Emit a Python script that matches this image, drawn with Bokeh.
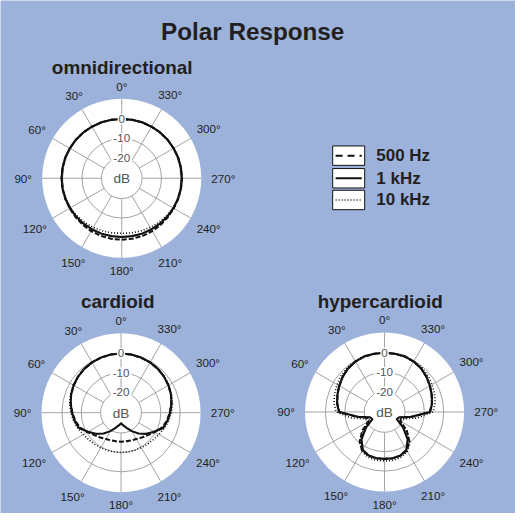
import numpy as np
from bokeh.plotting import figure
from bokeh.models import Range1d
from bokeh.embed import file_html
from bokeh.resources import INLINE
from bokeh.core.properties import value

# ---------------- data ----------------
angles_deg = [0, 10, 20, 30, 40, 50, 60, 70, 80, 90, 100, 110, 120, 130, 140, 150, 160, 170, 180]

series_labels = ["500 Hz", "1 kHz", "10 kHz"]
plot_titles = ["omnidirectional", "cardioid", "hypercardioid"]
main_title = "Polar Response"
ring_db = [0, -10, -20]
ring_labels = ["0", "-10", "-20"]
angle_ticks = [0, 30, 60, 90, 120, 150, 180, 210, 240, 270, 300, 330]
angle_labels = ["0°", "30°", "60°", "90°", "120°", "150°", "180°", "210°", "240°", "270°", "300°", "330°"]

# dB response, 0..180 deg (mirrored for 180..360)
omni_500 = [0, 0.1, 0.2, 0.2, 0.3, 0.4, 0.4, 0.5, 0.5, 0.5, 0.5, 0.5, 0.5, 0.6, 0.8, 1.0, 1.1, 1.2, 1.2]
omni_1k = [0, 0.1, 0.2, 0.2, 0.3, 0.4, 0.4, 0.5, 0.5, 0.5, 0.5, 0.4, 0.3, 0.2, 0.1, 0.0, -0.1, -0.2, -0.2]
omni_10k = [0, 0.1, 0.2, 0.2, 0.3, 0.4, 0.4, 0.5, 0.5, 0.5, 0.4, 0.2, 0.0, -0.4, -0.8, -1.2, -1.6, -1.9, -2.1]

card_500 = [0, -0.1, -0.3, -0.6, -1.0, -1.6, -2.3, -3.1, -4.2, -5.4, -6.5, -8.0, -10.5, -12.5, -13.8, -14.8, -15.3, -15.5, -15.5]
card_1k = [0, -0.1, -0.3, -0.6, -1.0, -1.6, -2.3, -3.1, -4.1, -5.2, -6.2, -7.4, -10.8, -13.5, -16.5, -19.5, -22.2, -23.8, -25.0]
card_10k = [0, -0.1, -0.3, -0.5, -0.9, -1.4, -2.0, -2.8, -3.6, -4.6, -5.6, -6.8, -8.0, -8.8, -9.3, -9.6, -9.8, -9.9, -9.9]

hyper_500 = [0, 0, -0.1, -0.5, -1.2, -2.3, -3.5, -4.7, -5.8, -7.2, -16.0, -21.5, -21.0, -15.5, -10.5, -7.5, -6.5, -6.3, -6.3]
hyper_1k = [0, 0, 0, -0.5, -1.2, -2.3, -3.5, -4.6, -5.6, -7.0, -16.5, -22.5, -23.2, -18.0, -12.0, -8.0, -6.6, -6.3, -6.3]
hyper_10k = [0, 0, 0.2, -0.2, -0.6, -1.3, -2.2, -3.1, -4.0, -5.5, -13.0, -20.0, -22.0, -16.5, -10.5, -7.0, -5.6, -5.2, -5.2]

# ---------------- styling / layout ----------------
BG = "#9db2da"
INK = "#231f20"
GRID = "#a3a3a3"
FONT = "Liberation Sans"
S = 515.0 / 531.0   # screen px per layout unit
R0 = 61.0        # radius of 0 dB ring
PX_DB = 2.0      # units per dB
R_OUT = 82.0
R_IN = 21.0


def fs(px):
    return value(f"{px * S:.2f}px")


centers = [(125.0, 183.3), (124.3, 425.0), (396.0, 424.3)]
title_pos = [(125.5, 69.0), (121.0, 310.0), (391.5, 310.0)]
plot_data = [
    (omni_500, omni_1k, omni_10k),
    (card_500, card_1k, card_10k),
    (hyper_500, hyper_1k, hyper_10k),
]
dashes = ["5 2", "solid", "1 2"]
widths = [2.0, 2.1, 1.6]

p = figure(width=515, height=513, x_range=Range1d(0, 531), y_range=Range1d(529, 0),
           output_backend="svg", toolbar_location=None, min_border=0,
           x_axis_type=None, y_axis_type=None,
           background_fill_color=BG, border_fill_color=BG, outline_line_color=None)
p.grid.visible = False

ang = np.array(angles_deg, dtype=float)
full_ang = np.concatenate([ang, 360 - ang[::-1][1:]])


def to_xy(cx, cy, deg, r):
    t = np.radians(deg)
    return cx - r * np.sin(t), cy - r * np.cos(t)


for (cx, cy), series in zip(centers, plot_data):
    # white disc
    p.circle(x=[cx], y=[cy], radius=R_OUT, fill_color="white", line_color=None)
    # rings
    ring_r = [R0 + PX_DB * d for d in ring_db]
    p.circle(x=[cx] * 3, y=[cy] * 3, radius=ring_r, fill_color=None,
             line_color=GRID, line_width=1)
    # spokes
    t = np.array(angle_ticks, dtype=float)
    x0, y0 = to_xy(cx, cy, t, R_IN)
    x1, y1 = to_xy(cx, cy, t, R_OUT)
    p.segment(x0=x0, y0=y0, x1=x1, y1=y1, line_color=GRID, line_width=1)
    # curves
    for vals, dsh, lw in zip(series, dashes, widths):
        v = np.array(vals, dtype=float)
        full_v = np.concatenate([v, v[::-1][1:]])
        r = R0 + PX_DB * full_v
        xs, ys = to_xy(cx, cy, full_ang, r)
        p.line(xs, ys, line_color="#111111", line_width=lw, line_dash=dsh,
               line_join="round")
    # ring label boxes + labels
    ly = [cy - (R0 + PX_DB * d) for d in ring_db]
    bw = [len(s) * 6.5 + 2 for s in ring_labels]
    p.rect(x=[cx] * 3, y=ly, width=bw, height=11, fill_color="white", line_color=None)
    p.text(x=[cx] * 3, y=ly, text=ring_labels, text_font=value(FONT),
           text_font_size=fs(12), text_align="center", text_baseline="middle",
           text_color="#555555")
    p.text(x=[cx], y=[cy + 0.5], text=["dB"], text_font=value(FONT),
           text_font_size=fs(14), text_align="center", text_baseline="middle",
           text_color="#555555")
    # angle labels
    hw = np.array([len(s) * 3.2 for s in angle_labels])
    rr = 95.0 + (hw - 3.0) * np.abs(np.sin(np.radians(t)))
    ax, ay = to_xy(cx, cy, t, rr)
    p.text(x=ax, y=ay, text=angle_labels, text_font=value(FONT),
           text_font_size=fs(12), text_align="center", text_baseline="middle",
           text_color=INK)

# titles
p.text(x=[260.0], y=[32.0], text=[main_title], text_font=value(FONT),
       text_font_size=fs(25), text_font_style="bold", text_align="center",
       text_baseline="alphabetic", text_color=INK)
p.text(x=[tp[0] for tp in title_pos], y=[tp[1] for tp in title_pos], text=plot_titles,
       text_font=value(FONT), text_font_size=fs(19.5), text_font_style="bold",
       text_align="center", text_baseline="alphabetic", text_color=INK)

# legend
leg_y = [160.0, 183.3, 205.7]
p.rect(x=[359.0] * 3, y=leg_y, width=33, height=20, fill_color="white",
       line_color="#111111", line_width=1)
leg_dash = ["7 5", "solid", "1 2"]
for yy, dsh, lw in zip(leg_y, leg_dash, widths):
    p.line([345.5, 372.5], [yy, yy], line_color="#111111", line_width=lw, line_dash=dsh)
p.text(x=[387.5] * 3, y=leg_y, text=series_labels, text_font=value(FONT),
       text_font_size=fs(17.5), text_font_style="bold", text_align="left",
       text_baseline="middle", text_color=INK)

open("out.html", "w").write(file_html(p, INLINE))
